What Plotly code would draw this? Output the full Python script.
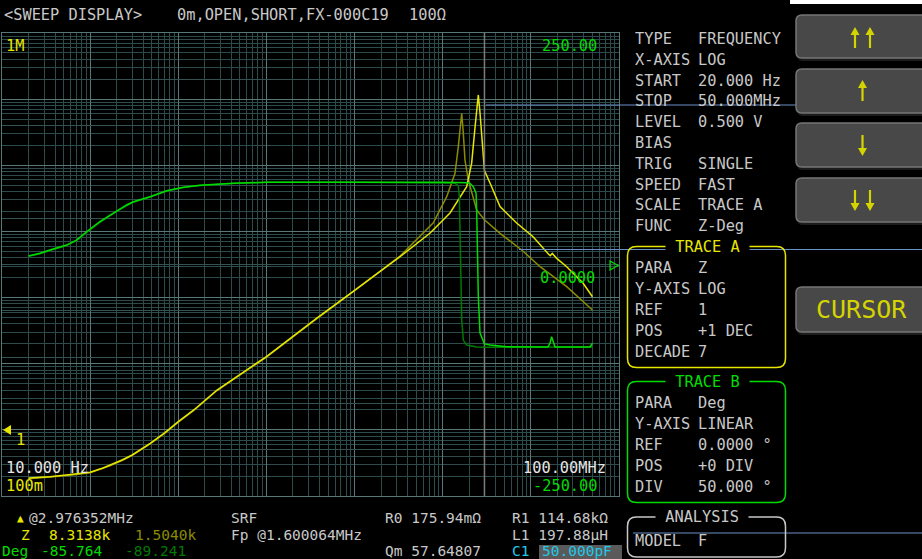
import plotly.graph_objects as go

W, H = 922, 559
def X(px): return px / W
def Y(py): return 1 - py / H

# ---------------- data ----------------
# Trace A (|Z|, ohm) - current sweep (bright yellow)
freq_z = [20, 35, 60, 100, 140, 170, 230, 300, 480, 700, 1000, 1500, 2750, 10000, 37000,
          100000, 328000, 720000, 1210000, 1870000, 2130000, 2330000, 2470000, 2535000,
          2650000, 2770000, 2976352, 3440000, 4470000, 6900000, 10600000, 15800000,
          16600000, 17500000, 19500000, 25500000, 39000000, 50000000]
z_now = [0.187, 0.196, 0.211, 0.229, 0.265, 0.294, 0.35, 0.417, 0.627, 0.9, 1.33, 2.0, 4.0,
         12.8, 48.6, 128, 415, 946, 1900, 4740, 10800, 38400, 97000, 115700,
         61700, 27100, 8313.8, 5400, 2370, 1340, 832, 455,
         430, 465, 395, 293, 166, 103]
# Trace A memory sweep (dim yellow)
freq_zm = [20, 35, 60, 100, 140, 170, 230, 300, 480, 700, 1000, 1500, 2750, 10000, 37000,
           100000, 328000, 782000, 1110000, 1379000, 1503000, 1571000, 1643000, 1713000,
           1789000, 1950000, 2432000, 2976352, 3160000, 4470000, 7870000, 12720000,
           25500000, 50000000]
z_mem = [0.182, 0.192, 0.206, 0.225, 0.26, 0.288, 0.344, 0.41, 0.615, 0.88, 1.31, 1.97, 3.93,
         12.6, 47.5, 127, 425, 1350, 3350, 7570, 19100, 34200, 61100, 30500,
         12000, 6000, 2100, 1504.0, 1400, 937, 524, 293,
         146, 65]
# Trace B (phase, deg) - current sweep (bright green)
freq_d = [20, 27, 35, 54, 70, 91, 129, 200, 259, 309, 478, 739, 1140, 1763, 4200, 10000,
          100000, 1000000, 1870000, 2040000, 2220000, 2390000, 2432000, 2470000, 2535000,
          2650000, 2888000, 2976352, 3440000, 5320000, 15600000, 16500000, 17200000,
          18000000, 18800000, 46900000, 50000000]
deg_now = [9.2, 12.1, 15.7, 21.0, 26.4, 35.4, 46.2, 58.0, 64.3, 67.8, 73.2, 79.7, 83.4, 85.5,
           87.7, 88.8, 89.0, 88.8, 88.3, 87.6, 84.0, 77.0, 55.6, 19.0, -34.8,
           -74.0, -83.4, -85.764, -87.0, -88.8, -89.0, -85.0, -78.0,
           -85.0, -89.0, -89.0, -85.0]
# Trace B memory sweep (dark green)
freq_dm = [20, 27, 35, 54, 70, 91, 129, 200, 259, 309, 478, 739, 1140, 1763, 4200, 10000,
           100000, 1000000, 1379000, 1503000, 1543000, 1571000, 1600000, 1643000, 1713000,
           1871000, 2432000, 2976352, 50000000]
deg_mem = [8.8, 11.7, 15.2, 20.5, 25.9, 34.8, 45.6, 57.5, 63.8, 67.3, 72.8, 79.3, 83.1, 85.3,
           87.6, 88.7, 88.9, 88.5, 87.7, 84.8, 73.2, 37.0, -17.0, -60.0, -81.6,
           -87.0, -89.0, -89.241, -89.2]
cursor_freq = 2976352

header_texts = ["&lt;SWEEP DISPLAY&gt;", "0m,OPEN,SHORT,FX-000C19", "100Ω"]
panel_labels = ["TYPE", "X-AXIS", "START", "STOP", "LEVEL", "BIAS", "TRIG", "SPEED", "SCALE", "FUNC"]
panel_values = ["FREQUENCY", "LOG", "20.000 Hz", "50.000MHz", "0.500 V", "", "SINGLE", "FAST", "TRACE A", "Z-Deg"]
traceA_labels = ["PARA", "Y-AXIS", "REF", "POS", "DECADE"]
traceA_values = ["Z", "LOG", "1", "+1 DEC", "7"]
traceB_labels = ["PARA", "Y-AXIS", "REF", "POS", "DIV"]
traceB_values = ["Deg", "LINEAR", "0.0000 °", "+0 DIV", "50.000 °"]

# ---------------- styles ----------------
MONO = "DejaVu Sans Mono"
BY, DY = "#e6e600", "#8c8c00"
BG, DG = "#00dc00", "#007a00"
TXT = "#c8c8c8"
WT = "#e6e6e6"
CYAN = "#22c8e8"
BLUE = "#6a8fc8"
AROW = "#d4d400"
GMAJ, GMIN, GLIN, BORDER = "#587878", "#2e4b4b", "#345252", "#587878"
FS = 15.3
FSB = 14.5

fig = go.Figure()
fig.add_trace(go.Scatter(x=[cursor_freq, cursor_freq], y=[-250, 250], yaxis="y2", mode="lines",
                         line=dict(color="#7c7c7c", width=1.5), hoverinfo="skip"))
fig.add_trace(go.Scatter(x=freq_dm, y=deg_mem, yaxis="y2", mode="lines", line=dict(color=DG, width=1.5)))
fig.add_trace(go.Scatter(x=freq_d, y=deg_now, yaxis="y2", mode="lines", line=dict(color=BG, width=1.5)))
fig.add_trace(go.Scatter(x=freq_zm, y=z_mem, yaxis="y", mode="lines", line=dict(color=DY, width=1.5)))
fig.add_trace(go.Scatter(x=freq_z, y=z_now, yaxis="y", mode="lines", line=dict(color=BY, width=1.5)))
fig.add_trace(go.Scatter(x=[cursor_freq], y=[-255], yaxis="y2", mode="markers", cliponaxis=False,
                         marker=dict(symbol="triangle-up", size=9, color=BY), hoverinfo="skip"))

axis_common = dict(showticklabels=False, ticks="", zeroline=False, showline=True,
                   linecolor=BORDER, mirror=True, linewidth=1)
fig.update_layout(
    width=W, height=H, margin=dict(l=0, r=0, t=0, b=0),
    paper_bgcolor="black", plot_bgcolor="black", showlegend=False,
    xaxis=dict(type="log", range=[1, 8], domain=[X(2), X(619)], dtick=1,
               showgrid=True, gridcolor=GMAJ, gridwidth=1,
               minor=dict(dtick="D1", showgrid=True, gridcolor=GMIN, gridwidth=1, ticks=""),
               **axis_common),
    yaxis=dict(type="log", range=[-1, 6], domain=[Y(496), Y(33)], dtick=1,
               showgrid=True, gridcolor=GMAJ, gridwidth=1,
               minor=dict(dtick="D1", showgrid=True, gridcolor=GMIN, gridwidth=1, ticks=""),
               **axis_common),
    yaxis2=dict(range=[-250, 250], overlaying="y", anchor="x", dtick=50, showgrid=True,
                gridcolor=GLIN, gridwidth=1, showticklabels=False, ticks="", zeroline=False),
)

shapes = []
def path(pts, close=True):
    s = "M " + " L ".join(f"{X(a):.5f},{Y(b):.5f}" for a, b in pts)
    return s + (" Z" if close else "")

def rrect(x0, y0, x1, y1, r):
    def p(a, b): return f"{X(a):.5f},{Y(b):.5f}"
    return (f"M {p(x0+r,y0)} L {p(x1-r,y0)} Q {p(x1,y0)} {p(x1,y0+r)} L {p(x1,y1-r)} "
            f"Q {p(x1,y1)} {p(x1-r,y1)} L {p(x0+r,y1)} Q {p(x0,y1)} {p(x0,y1-r)} "
            f"L {p(x0,y0+r)} Q {p(x0,y0)} {p(x0+r,y0)} Z")

def add_shape(pth, fill="rgba(0,0,0,0)", line="rgba(0,0,0,0)", lw=1):
    shapes.append(dict(type="path", xref="paper", yref="paper", path=pth,
                       fillcolor=fill, line=dict(color=line, width=lw), layer="above"))

def pline(x0, y0, x1, y1, color, width):
    shapes.append(dict(type="line", xref="paper", yref="paper", x0=X(x0), x1=X(x1), y0=Y(y0), y1=Y(y1),
                       line=dict(color=color, width=width), layer="above"))

# top-right white strip
add_shape(path([(790, -2), (925, -2), (925, 4), (790, 4)]), fill="white")
# blue overlay lines
for (x0, x1, yy) in [(486, 925, 105), (519, 925, 249.5), (633, 925, 533)]:
    pline(x0, yy, x1, yy, BLUE, 1)
# marker triangles
add_shape(path([(3, 430), (11, 425), (11, 435)]), fill=BY)
add_shape(path([(610, 261), (618, 265.5), (610, 270)]), line=BG, lw=1.2)

# panel boxes
add_shape(rrect(627.5, 246.5, 785.5, 367.5, 9), line=BY, lw=1.5)
add_shape(rrect(627.5, 381.5, 785.5, 502.5, 9), line=BG, lw=1.5)
add_shape(rrect(627.5, 517, 785.5, 557, 9), line=TXT, lw=1.5)

# buttons
btn_rows = [(15, 58), (69, 113), (123, 167), (178, 222)]
for (y0, y1) in btn_rows + [(287, 332)]:
    add_shape(rrect(797, y0 + 2, 935, y1 + 3, 6), fill="#1c1c1c")
    add_shape(rrect(796, y0, 935, y1, 6), fill="#484848", line="#767676", lw=1.5)

# button arrow icons
def arrow(cx, ytip, ytail):
    d = 1 if ytail > ytip else -1
    pline(cx, ytip + d * 6, cx, ytail, AROW, 2.2)
    add_shape(path([(cx, ytip), (cx - 4.5, ytip + d * 8), (cx + 4.5, ytip + d * 8)]), fill=AROW)

for cx in (855, 870):
    arrow(cx, 27, 48)
arrow(862.5, 80, 101)
arrow(862.5, 156, 135)
for cx in (855, 870):
    arrow(cx, 211, 190)

# highlight behind C1 value
add_shape(path([(539, 545), (622, 545), (622, 560), (539, 560)]), fill="#5a5a5a")
fig.update_layout(shapes=shapes)

def txt(s, px, py, color=TXT, size=FS, anchor="left", bg="rgba(0,0,0,0)", family=MONO):
    fig.add_annotation(x=X(px), y=Y(py), xref="paper", yref="paper", text=s, showarrow=False,
                       xanchor=anchor, yanchor="middle", bgcolor=bg, borderpad=0,
                       font=dict(family=family, size=size, color=color))

# header
for s, px in zip(header_texts, [3, 176, 408]):
    txt(s, px, 15)
# plot labels
txt("1M", 5, 46, BY)
txt("250.00", 598, 46, BG, anchor="right")
txt("10.000 Hz", 5, 468, WT)
txt("100m", 5, 486, BY)
txt("100.00MHz", 607, 468, WT, anchor="right")
txt("-250.00", 598, 486, BG, anchor="right")
txt("1", 15, 440, BY)
txt("0.0000", 596, 278, BG, anchor="right")

# right panel
for i, (lab, val) in enumerate(zip(panel_labels, panel_values)):
    yy = 39 + i * 20.8
    txt(lab, 634, yy)
    if val:
        txt(val, 697, yy)
txt(" TRACE A ", 707, 247, BY, anchor="center", bg="black")
for i, (lab, val) in enumerate(zip(traceA_labels, traceA_values)):
    yy = 268.3 + i * 20.8
    txt(lab, 634, yy)
    txt(val, 697, yy)
txt(" TRACE B ", 707, 381.5, BG, anchor="center", bg="black")
for i, (lab, val) in enumerate(zip(traceB_labels, traceB_values)):
    yy = 403.3 + i * 20.8
    txt(lab, 634, yy)
    txt(val, 697, yy)
txt(" ANALYSIS ", 701.5, 517, TXT, anchor="center", bg="black")
txt("MODEL", 634, 540.5)
txt("F", 697, 540.5)

txt("CURSOR", 861, 309, AROW, size=25, anchor="center")

# bottom read-out
txt("▲", 16, 518, BY, size=11)
txt("@2.976352MHz", 28, 518, size=FSB)
txt("Z", 20, 535, BY, size=FSB)
txt("8.3138k", 48, 535, BY, size=FSB)
txt("1.5040k", 134, 535, DY, size=FSB)
txt("Deg", 1, 551, BG, size=FSB)
txt("-85.764", 40, 551, BG, size=FSB)
txt("-89.241", 124, 551, DG, size=FSB)
txt("SRF", 230, 518, size=FSB)
txt("Fp @1.600064MHz", 230, 535, size=FSB)
txt("R0 175.94mΩ", 384, 518, size=FSB)
txt("Qm 57.64807", 384, 551, size=FSB)
txt("R1 114.68kΩ", 511, 518, size=FSB)
txt("L1 197.88μH", 511, 535, size=FSB)
txt("C1", 511, 551, CYAN, size=FSB)
txt("50.000pF", 541, 551, CYAN, size=FSB)

fig.write_html("out.html", config={"displayModeBar": False},
               post_script="document.body.style.margin='0';document.body.style.background='black';")
